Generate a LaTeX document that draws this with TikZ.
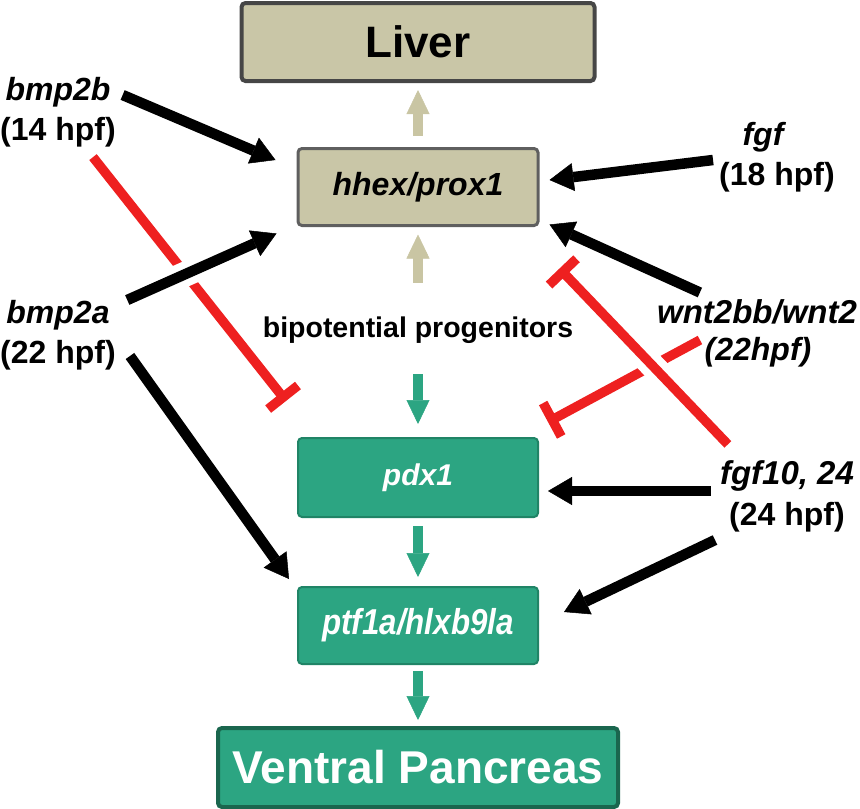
\documentclass[tikz,border=0pt]{standalone}
\usepackage{fontspec}
\setmainfont{Liberation Sans}
\usetikzlibrary{arrows.meta}

\definecolor{khaki}{RGB}{201,198,167}
\definecolor{khakiarrow}{RGB}{201,197,163}
\definecolor{liverline}{RGB}{70,70,70}
\definecolor{boxgray}{RGB}{95,95,95}
\definecolor{pancgreen}{RGB}{44,165,130}
\definecolor{pancdark}{RGB}{32,132,102}
\definecolor{vpline}{RGB}{26,102,78}
\definecolor{inhred}{RGB}{238,32,32}

\begin{document}
\begin{tikzpicture}[x=1pt,y=-1pt,
    box/.style={rounded corners=4pt, minimum width=240pt, minimum height=77pt, inner sep=0pt},
    liverbox/.style={box, fill=khaki, draw=boxgray, line width=3pt},
    pancbox/.style={box, fill=pancgreen, draw=pancdark, line width=2pt, text=white},
    lab/.style={inner sep=0pt, font=\fontsize{32}{38}\selectfont\bfseries},
    genelab/.style={inner sep=0pt, font=\fontsize{32}{38}\selectfont\bfseries\itshape},
    act/.style={draw=black, line width=10.5pt, -{Triangle[width=28pt,length=24pt,line width=0.5pt]}},
    inh/.style={draw=inhred, line width=9.5pt, -{Bar[width=38pt]}},
    gap/.style={draw=white, line width=25pt},
    upkhaki/.style={draw=khakiarrow, line width=10pt, -{Triangle[width=23pt,length=24pt,line width=0.5pt]}},
    downgreen/.style={draw=pancgreen, line width=10pt, -{Triangle[width=23pt,length=24pt,line width=0.5pt]}}]

    \useasboundingbox (0,0) rectangle (860,809);

    % Boxes down the middle
    \node[liverbox, minimum width=353pt, minimum height=78pt, draw=liverline, line width=4pt,
          font=\fontsize{44}{50}\selectfont\bfseries] (liver) at (418,42) {Liver};
    \node[liverbox, font=\fontsize{32}{38}\selectfont\bfseries\itshape] (hhex) at (418,187) {hhex/prox1};
    \node[lab, font=\fontsize{28.5}{34}\selectfont\bfseries] (prog) at (418,330) {bipotential progenitors};
    \node[pancbox, minimum height=79pt, font=\fontsize{30}{36}\selectfont\bfseries\itshape] (pdx) at (418,477.5) {pdx1};
    \node[pancbox, font=\fontsize{36}{42}\selectfont\bfseries\itshape] (ptf) at (418,625.5) {\scalebox{0.87}[1]{ptf1a/hlxb9la}};
    \node[pancbox, minimum width=400pt, minimum height=79pt, draw=vpline, line width=4pt,
          font=\fontsize{46}{52}\selectfont\bfseries] (vp) at (418,767.5) {Ventral Pancreas};

    % Signals on the left
    \node[genelab] (bmp2b) at (58,92) {bmp2b};
    \node[lab] (s14) at (58,132) {(14 hpf)};
    \node[genelab] (bmp2a) at (58,315) {bmp2a};
    \node[lab] (s22a) at (58,355) {(22 hpf)};

    % Signals on the right
    \node[genelab] (fgf) at (763,137) {fgf};
    \node[lab] (s18) at (777,177) {(18 hpf)};
    \node[genelab, font=\fontsize{33}{38}\selectfont\bfseries\itshape] (wnt) at (757,312) {wnt2bb/wnt2};
    \node[genelab] (s22b) at (758,352) {(22hpf)};
    \node[genelab, font=\fontsize{33}{38}\selectfont\bfseries\itshape] (fgf10) at (787,476) {fgf10, 24};
    \node[lab] (s24) at (787,517) {(24 hpf)};

    % Lineage arrows
    \draw[upkhaki, shorten <=11.5pt, shorten >=7pt] (hhex.north) -- (hhex.north |- liver.south);
    \draw[upkhaki, shorten <=33.5pt, shorten >=7.5pt] (prog.north) -- (prog.north |- hhex.south);
    \draw[downgreen, shorten <=30.5pt, shorten >=13pt] (prog.south) -- (prog.south |- pdx.north);
    \draw[downgreen, shorten <=8pt, shorten >=9pt] (pdx) -- (ptf);
    \draw[downgreen, shorten <=6pt, shorten >=6pt] (ptf) -- (vp);

    % bmp2b
    \draw[act] ([xshift=12pt,yshift=-3pt]bmp2b.east) -- ([xshift=-21pt,yshift=27pt]hhex.west);
    \draw[inh] ([xshift=35pt,yshift=-10pt]s14.south) -- ([xshift=-11pt,yshift=36pt]pdx.north west);

    % bmp2a (crosses over the red bar)
    \draw[gap, shorten <=30pt, shorten >=40pt] ([xshift=17.5pt,yshift=15pt]bmp2a.east) -- ([xshift=-20pt,yshift=-6.5pt]hhex.south west);
    \draw[act] ([xshift=17.5pt,yshift=15pt]bmp2a.east) -- ([xshift=-20pt,yshift=-6.5pt]hhex.south west);
    \draw[act] ([xshift=14pt,yshift=-1pt]s22a.east) -- ([xshift=-8pt,yshift=7pt]ptf.north west);

    % fgf and wnt2bb/wnt2
    \draw[act] ([xshift=-6pt,yshift=17pt]s18.west) -- ([xshift=10pt,yshift=7pt]hhex.east);
    \draw[act] ([xshift=43pt,yshift=7pt]wnt.north west) -- ([xshift=10pt,yshift=2.5pt]hhex.south east);
    \draw[inh] ([xshift=-4.5pt,yshift=12pt]s22b.west) -- ([xshift=9pt,yshift=15pt]pdx.north east);

    % fgf10, 24 (red bar drawn over the wnt bar)
    \draw[act] ([xshift=-9pt,yshift=-15pt]fgf10.west) -- ([xshift=9pt,yshift=-13.5pt]pdx.east);
    \draw[act] ([xshift=-14pt,yshift=-23pt]s24.west) -- ([xshift=25pt,yshift=13.5pt]ptf.east);
    \draw[gap, shorten <=40pt, shorten >=40pt] ([xshift=8pt,yshift=16pt]fgf10.north west) -- ([xshift=20pt,yshift=-41.5pt]hhex.south east);
    \draw[inh] ([xshift=8pt,yshift=16pt]fgf10.north west) -- ([xshift=20pt,yshift=-41.5pt]hhex.south east);

\end{tikzpicture}
\end{document}
